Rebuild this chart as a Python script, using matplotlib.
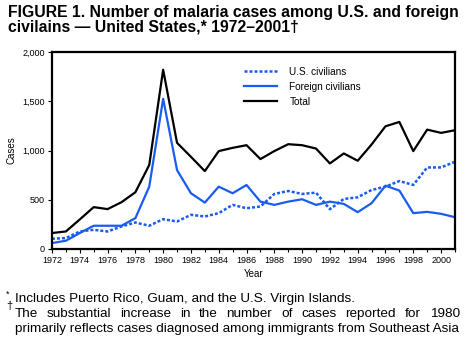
import numpy as np
import matplotlib
matplotlib.use("Agg")
import matplotlib.pyplot as plt

plt.rcParams['font.family'] = ['Liberation Sans', 'DejaVu Sans']

years = list(range(1972, 2002))
us_civ = [104, 111, 178, 195, 178, 229, 269, 236, 303, 279, 347, 330, 364, 448, 414,
          431, 559, 589, 559, 572, 404, 508, 525, 599, 633, 690, 650, 828, 828, 886]
foreign_civ = [60, 84, 162, 236, 236, 236, 313, 633, 1525, 801, 566, 471, 633, 566, 650,
               481, 448, 481, 505, 448, 481, 458, 374, 465, 643, 593, 364, 377, 357, 323]
total = [162, 178, 300, 425, 405, 475, 576, 853, 1820, 1078, 936, 791, 994, 1027, 1054,
         913, 994, 1064, 1054, 1020, 869, 970, 896, 1061, 1246, 1290, 994, 1212, 1179, 1206]

notes = ['Includes Puerto Rico, Guam, and the U.S. Virgin Islands.',
         'The substantial increase in the number of cases reported for 1980',
         'primarily reflects cases diagnosed among immigrants from Southeast Asia']

blue = '#1a5cf0'

fig = plt.figure(figsize=(4.7, 3.48), dpi=100)
ax = fig.add_axes([0.1106, 0.2845, 0.8574, 0.566])

ax.plot(years, us_civ, color=blue, lw=1.8, ls=(0, (1.2, 0.8)), label='U.S. civilians')
ax.plot(years, foreign_civ, color=blue, lw=1.6, label='Foreign civilians')
ax.plot(years, total, color='black', lw=1.6, label='Total')

ax.set_xlim(1972, 2001)
ax.set_ylim(0, 2000)
ax.set_xticks(range(1972, 2001, 2))
ax.set_xticks(range(1972, 2002), minor=True)
ax.set_yticks([0, 500, 1000, 1500, 2000])
ax.set_yticklabels(['0', '500', '1,000', '1,500', '2,000'])
ax.tick_params(labelsize=6.5, length=3, width=0.8, pad=2)
ax.tick_params(which='minor', length=2, width=0.8)
for s in ax.spines.values():
    s.set_linewidth(1.6)

ax.set_xlabel('Year', fontsize=7, labelpad=3)
ax.set_ylabel('Cases', fontsize=7, labelpad=4)

ax.legend(loc='upper left', bbox_to_anchor=(0.455, 0.97), frameon=False, fontsize=7.2,
          handlelength=3.3, handletextpad=1.2, labelspacing=0.5)

fig.text(0.017, 0.985, 'FIGURE 1. Number of malaria cases among U.S. and foreign\n'
         'civilains \u2014 United States,* 1972\u20132001\u2020',
         fontsize=11.3, fontweight='bold', va='top', linespacing=0.92)

fig.text(0.013, 0.148, '*', fontsize=6.5, va='baseline')
fig.text(0.013, 0.112, '\u2020', fontsize=8, va='baseline')

# footnotes; the middle line is justified out to the right edge like the original
x0, x1 = 0.031, 0.978
renderer = fig.canvas.get_renderer()
for i, line in enumerate(notes):
    y = 0.132 - i * 0.043
    if i != 1:
        fig.text(x0, y, line, fontsize=9.7, va='baseline')
        continue
    words = line.split()
    texts = [fig.text(0, y, w, fontsize=9.7, va='baseline') for w in words]
    widths = [t.get_window_extent(renderer).width / fig.bbox.width for t in texts]
    gap = (x1 - x0 - sum(widths)) / (len(words) - 1)
    x = x0
    for t, w in zip(texts, widths):
        t.set_x(x)
        x += w + gap

fig.savefig('out.png', dpi=100)
